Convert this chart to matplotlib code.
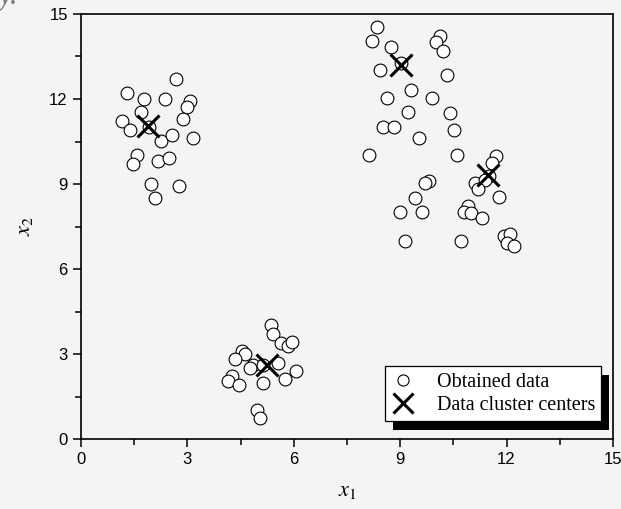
import matplotlib
matplotlib.use("Agg")
import matplotlib.pyplot as plt
from matplotlib.lines import Line2D
from matplotlib.patches import Rectangle
from matplotlib.ticker import MultipleLocator

# ====== DADOS ======
x1_data = [2.68, 1.29, 1.78, 2.38, 3.07, 2.98, 1.68, 2.87, 1.17, 1.38, 1.91,
           2.26, 2.57, 3.17, 1.59, 1.48, 2.18, 2.48, 1.97, 2.76, 2.09,
           8.34, 8.22, 8.73, 10.12, 10.00, 10.21, 9.01, 8.43, 10.31, 9.32,
           8.64, 9.91, 9.23, 10.40, 8.52, 8.82, 10.51, 9.52, 8.13, 10.61,
           9.82, 9.70, 9.42, 8.99, 9.61, 9.14,
           11.69, 11.60, 11.50, 11.12, 11.39, 11.20, 11.80, 10.90, 10.80,
           11.00, 11.30, 10.71, 11.93, 12.10, 12.00, 12.20,
           5.35, 5.42, 5.64, 5.85, 5.96, 4.55, 4.62, 4.34, 4.86, 4.76, 5.56,
           5.14, 6.05, 5.76, 5.14, 4.27, 4.15, 4.46, 4.95, 5.05]
x2_data = [12.71, 12.22, 12.00, 12.00, 11.93, 11.71, 11.54, 11.31, 11.24, 10.91, 11.02,
           10.52, 10.72, 10.61, 10.01, 9.71, 9.82, 9.93, 9.01, 8.92, 8.52,
           14.53, 14.03, 13.85, 14.24, 14.00, 13.71, 13.26, 13.03, 12.83, 12.32,
           12.02, 12.02, 11.53, 11.52, 11.02, 11.02, 10.91, 10.64, 10.01, 10.01,
           9.11, 9.02, 8.51, 8.02, 8.00, 7.00,
           10.00, 9.73, 9.30, 9.02, 9.14, 8.81, 8.53, 8.22, 8.02,
           7.99, 7.81, 7.00, 7.18, 7.22, 6.91, 6.82,
           4.02, 3.71, 3.40, 3.28, 3.44, 3.12, 2.99, 2.81, 2.61, 2.49, 2.67,
           2.61, 2.40, 2.12, 1.99, 2.22, 2.05, 1.91, 1.02, 0.73]

centros_x1 = [1.89, 9.01, 11.49, 5.25]
centros_x2 = [11.03, 13.20, 9.32, 2.61]

ticks = [0, 3, 6, 9, 12, 15]

# ====== GRÁFICO ======
plt.rcParams["mathtext.fontset"] = "stix"
bg = "#f4f4f4"

fig = plt.figure(figsize=(6.21, 5.09), dpi=100, facecolor=bg)
ax = fig.add_axes([0.1304, 0.1375, 0.8566, 0.835])
ax.set_facecolor(bg)

ax.plot(x1_data, x2_data, linestyle="none", marker="o", ms=9.2,
        mfc="white", mec="black", mew=0.8, zorder=2)
ax.plot(centros_x1, centros_x2, linestyle="none", marker="x", ms=16,
        mec="black", mew=2.2, zorder=3)

ax.set_xlim(0, 15)
ax.set_ylim(0, 15)
ax.set_xticks(ticks)
ax.set_yticks(ticks)
ax.xaxis.set_minor_locator(MultipleLocator(1.5))
ax.yaxis.set_minor_locator(MultipleLocator(1.5))
ax.tick_params(which="both", direction="out", top=False, right=False,
               width=1.1, labelsize=12)
ax.tick_params(which="major", length=6)
ax.tick_params(which="minor", length=4)
for lab in ax.get_xticklabels() + ax.get_yticklabels():
    lab.set_fontfamily("Liberation Sans")
for s in ax.spines.values():
    s.set_linewidth(1.2)

ax.set_xlabel(r"$x_1$", fontsize=16, labelpad=10)
ax.set_ylabel(r"$x_2$", fontsize=16, labelpad=10)

# legenda com sombra preta
handles = [
    Line2D([], [], linestyle="none", marker="o", ms=8, mfc="white",
           mec="black", mew=0.8),
    Line2D([], [], linestyle="none", marker="x", ms=14, mec="black", mew=2.2),
]
leg = ax.legend(handles, ["Obtained data", "Data cluster centers"],
                loc="lower right", bbox_to_anchor=(0.978, 0.042),
                borderaxespad=0, fancybox=False, framealpha=1,
                edgecolor="black", facecolor="white",
                prop={"family": "Liberation Serif", "size": 14.5},
                handlelength=1.1, handletextpad=1.15, borderpad=0.3,
                labelspacing=0.22)
leg.get_frame().set_linewidth(0.9)
leg.set_zorder(6)

fig.canvas.draw()
bb = leg.get_window_extent()
inv = ax.transAxes.inverted()
(x0, y0) = inv.transform((bb.x0 + 8, bb.y0 - 9))
(x1, y1) = inv.transform((bb.x1 + 8, bb.y1 - 9))
ax.add_patch(Rectangle((x0, y0), x1 - x0, y1 - y0, transform=ax.transAxes,
                       facecolor="black", edgecolor="none", zorder=5,
                       clip_on=False))

# resto de texto cortado no canto
fig.text(-0.002, 0.992, "y.", fontsize=22, color="#777777",
         family="Liberation Serif", style="italic", va="baseline")

fig.savefig("out.png", dpi=100, facecolor=bg)
